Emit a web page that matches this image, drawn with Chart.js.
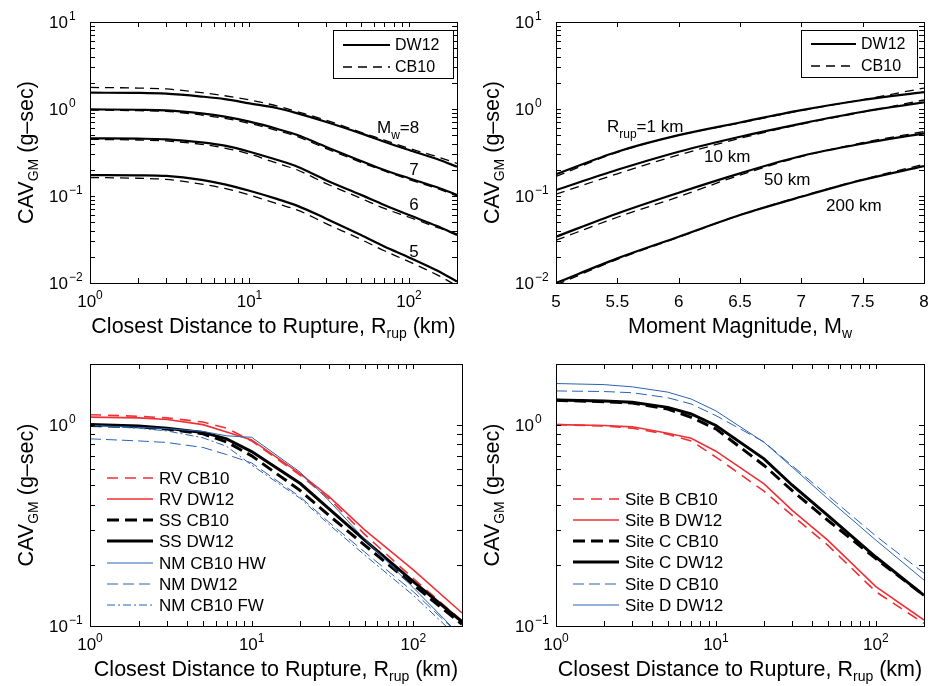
<!DOCTYPE html>
<html><head><meta charset="utf-8">
<script src="https://cdn.jsdelivr.net/npm/chart.js@4/dist/chart.umd.min.js"></script>
<style>
html,body{margin:0;padding:0;background:#fff;}
#wrap{position:relative;width:928px;height:686px;overflow:hidden;background:#fff;}
.pane{position:absolute;width:464px;height:343px;}
canvas{display:block;}
</style></head><body>
<div id="wrap">
<div class="pane" style="left:0;top:0"><canvas id="c1" width="464" height="343"></canvas></div>
<div class="pane" style="left:464px;top:0"><canvas id="c2" width="464" height="343"></canvas></div>
<div class="pane" style="left:0;top:343px"><canvas id="c3" width="464" height="343"></canvas></div>
<div class="pane" style="left:464px;top:343px"><canvas id="c4" width="464" height="343"></canvas></div>
</div>
<script>
// ---------------- DATA ----------------
// Panel (a): CAV vs distance for Mw 5-8
const distTop = [1, 2, 3, 5, 7, 10, 15, 20, 30, 50, 70, 100, 150, 200];
const dw12_M8 = [1.54, 1.53, 1.50, 1.39, 1.30, 1.16, 1.02, 0.89, 0.715, 0.525, 0.421, 0.338, 0.266, 0.217];
const cb10_M8 = [1.77, 1.74, 1.70, 1.54, 1.42, 1.27, 1.08, 0.93, 0.747, 0.539, 0.440, 0.353, 0.283, 0.237];
const dw12_M7 = [0.99, 0.98, 0.965, 0.89, 0.816, 0.715, 0.589, 0.503, 0.369, 0.253, 0.199, 0.160, 0.126, 0.103];
const cb10_M7 = [0.974, 0.957, 0.94, 0.853, 0.781, 0.684, 0.563, 0.481, 0.353, 0.244, 0.194, 0.155, 0.122, 0.100];
const dw12_M6 = [0.46, 0.456, 0.448, 0.414, 0.379, 0.323, 0.259, 0.217, 0.153, 0.103, 0.0788, 0.0604, 0.0451, 0.0356];
const cb10_M6 = [0.448, 0.44, 0.429, 0.393, 0.356, 0.304, 0.237, 0.199, 0.140, 0.094, 0.072, 0.057, 0.0437, 0.0366];
const dw12_M5 = [0.174, 0.173, 0.170, 0.153, 0.136, 0.115, 0.092, 0.077, 0.0553, 0.0356, 0.0262, 0.0197, 0.0139, 0.0104];
const cb10_M5 = [0.163, 0.160, 0.155, 0.137, 0.122, 0.103, 0.081, 0.069, 0.0485, 0.0317, 0.0235, 0.0176, 0.0124, 0.0093];

// Panel (b): CAV vs magnitude for Rrup = 1, 10, 50, 200 km
const mags = [5, 5.5, 6, 6.5, 7, 7.5, 8];
const dw12_R1 = [0.178, 0.323, 0.50, 0.70, 0.97, 1.27, 1.56];
const cb10_R1 = [0.168, 0.318, 0.50, 0.69, 0.96, 1.28, 1.74];
const dw12_R10 = [0.117, 0.20, 0.323, 0.48, 0.68, 0.93, 1.19];
const cb10_R10 = [0.105, 0.18, 0.296, 0.46, 0.67, 0.92, 1.27];
const dw12_R50 = [0.034, 0.063, 0.109, 0.182, 0.288, 0.40, 0.525];
const cb10_R50 = [0.031, 0.057, 0.098, 0.174, 0.284, 0.41, 0.55];
const dw12_R200 = [0.0100, 0.0192, 0.034, 0.0605, 0.098, 0.153, 0.221];
const cb10_R200 = [0.0095, 0.0187, 0.0335, 0.0605, 0.099, 0.155, 0.232];

// Panels (c) and (d): distance grid
const distBot = [1, 2, 3, 5, 7, 10, 20, 30, 50, 100, 200];
// Panel (c): style of faulting
const rv_cb10 = [1.12, 1.10, 1.08, 1.03, 0.96, 0.83, 0.56, 0.43, 0.285, 0.172, 0.106];
const rv_dw12 = [1.09, 1.08, 1.06, 1.0, 0.92, 0.84, 0.57, 0.44, 0.30, 0.19, 0.116];
const ss_cb10 = [0.99, 0.975, 0.95, 0.90, 0.82, 0.70, 0.47, 0.355, 0.252, 0.16, 0.102];
const ss_dw12 = [1.0, 0.985, 0.96, 0.915, 0.85, 0.735, 0.51, 0.383, 0.267, 0.166, 0.105];
const nm_cb10_hw = [0.99, 0.97, 0.955, 0.925, 0.88, 0.865, 0.58, 0.42, 0.27, 0.155, 0.088];
const nm_dw12 = [0.85, 0.83, 0.815, 0.77, 0.71, 0.645, 0.437, 0.328, 0.233, 0.148, 0.088];
const nm_cb10_fw = [0.99, 0.96, 0.93, 0.86, 0.78, 0.63, 0.43, 0.32, 0.225, 0.142, 0.084];
// Panel (d): site class
const siteB_cb10 = [1.0, 0.985, 0.96, 0.895, 0.83, 0.69, 0.467, 0.354, 0.252, 0.148, 0.103];
const siteB_dw12 = [1.0, 0.99, 0.975, 0.906, 0.855, 0.738, 0.508, 0.375, 0.267, 0.157, 0.107];
const siteC_cb10 = [1.32, 1.30, 1.28, 1.196, 1.087, 0.952, 0.627, 0.47, 0.335, 0.216, 0.142];
const siteC_dw12 = [1.325, 1.31, 1.29, 1.218, 1.13, 0.99, 0.676, 0.50, 0.354, 0.22, 0.142];
const siteD_cb10 = [1.47, 1.46, 1.44, 1.36, 1.266, 1.108, 0.82, 0.625, 0.445, 0.28, 0.183];
const siteD_dw12 = [1.60, 1.58, 1.54, 1.45, 1.34, 1.17, 0.817, 0.615, 0.429, 0.267, 0.169];

// Tick labels
const distDecades = [0, 1, 2];          // 10^0, 10^1, 10^2
const cavDecadesTop = [-2, -1, 0, 1];  // 10^-2 ... 10^1
const cavDecadesBot = [-1, 0];         // 10^-1, 10^0
const magTicks = [5, 5.5, 6, 6.5, 7, 7.5, 8];

// Text
const yTitle = ['CAV', 'GM', ' (g\u2013sec)'];
const xTitleDist = ['Closest Distance to Rupture, R', 'rup', ' (km)'];
const xTitleMag = ['Moment Magnitude, M', 'w', ''];

// ---------------- RENDERING ----------------
const FONT = '"Liberation Sans", Arial, Helvetica, sans-serif';
const RED = '#ee3136', BLUE = '#2c62b0', BLACK = '#000000';

function pts(xs, ys) { return xs.map((x, i) => ({ x: x, y: ys[i] })); }
function logMarks(min, max) {
  const out = [];
  for (let e = Math.floor(Math.log10(min) + 1e-9); Math.pow(10, e) <= max * 1.0001; e++) {
    for (let m = 1; m <= 9; m++) {
      const v = m * Math.pow(10, e);
      if (v >= min * 0.9999 && v <= max * 1.0001) out.push(v);
    }
  }
  return out;
}
function expStr(e) { return e < 0 ? '\u2212' + (-e) : String(e); }

function rich(ctx, segs, x, y, align) {
  let w = 0;
  segs.forEach(s => { ctx.font = s[1] + 'px ' + FONT; s.w = ctx.measureText(s[0]).width; w += s.w; });
  let cx = align === 'center' ? x - w / 2 : (align === 'right' ? x - w : x);
  ctx.textAlign = 'left';
  segs.forEach(s => { ctx.font = s[1] + 'px ' + FONT; ctx.fillText(s[0], cx, y + (s[2] || 0)); cx += s.w; });
  return w;
}

function makePanel(id, P) {
  const datasets = P.series.map(s => ({
    label: s.label,
    data: pts(s.x, s.y),
    borderColor: s.color,
    backgroundColor: s.color,
    borderWidth: s.width,
    borderDash: s.dash || [],
    pointRadius: 0,
    fill: false,
    tension: 0,
    cubicInterpolationMode: P.smooth ? 'monotone' : 'default'
  }));

  const overlay = {
    id: 'overlay' + id,
    afterDraw(chart) {
      const ctx = chart.ctx, a = chart.chartArea, sx = chart.scales.x, sy = chart.scales.y;
      ctx.save();
      ctx.fillStyle = '#000'; ctx.strokeStyle = '#000'; ctx.lineWidth = 1;
      ctx.setLineDash([]);
      // inward tick marks on all four sides
      const TL = 5;
      ctx.beginPath();
      P.xMarks.forEach(v => {
        const p = Math.round(sx.getPixelForValue(v)) + 0.5;
        ctx.moveTo(p, a.bottom); ctx.lineTo(p, a.bottom - TL);
        ctx.moveTo(p, a.top); ctx.lineTo(p, a.top + TL);
      });
      P.yMarks.forEach(v => {
        const p = Math.round(sy.getPixelForValue(v)) + 0.5;
        ctx.moveTo(a.left, p); ctx.lineTo(a.left + TL, p);
        ctx.moveTo(a.right, p); ctx.lineTo(a.right - TL, p);
      });
      ctx.stroke();
      ctx.strokeRect(Math.round(a.left) + 0.5, Math.round(a.top) + 0.5,
                     Math.round(a.right - a.left), Math.round(a.bottom - a.top));

      // x tick labels
      ctx.textBaseline = 'alphabetic';
      P.xLabels.forEach(L => {
        const p = sx.getPixelForValue(L.v);
        rich(ctx, L.segs.map(s => s.slice()), p, a.bottom + 24, 'center');
      });
      // y tick labels: "10" right-aligned, exponent hanging
      P.yLabels.forEach(e => {
        const p = sy.getPixelForValue(Math.pow(10, e));
        ctx.font = '17px ' + FONT; ctx.textAlign = 'right';
        ctx.fillText('10', a.left - 22, p + 6);
        ctx.font = '12px ' + FONT; ctx.textAlign = 'left';
        ctx.fillText(expStr(e), a.left - 21, p - 2);
      });

      // axis titles
      rich(ctx, [[P.xTitle[0], 21.5], [P.xTitle[1], 14, 5], [P.xTitle[2], 21.5]],
           (a.left + a.right) / 2, a.bottom + 50, 'center');
      ctx.save();
      ctx.translate(a.left - 57, (a.top + a.bottom) / 2);
      ctx.rotate(-Math.PI / 2);
      rich(ctx, [[yTitle[0], 21.5], [yTitle[1], 14, 5], [yTitle[2], 21.5]], 0, 0, 'center');
      ctx.restore();

      // annotations
      (P.notes || []).forEach(n => { rich(ctx, n.segs.map(s => s.slice()), n.x, n.y, n.align || 'left'); });

      // legend
      const G = P.legend;
      if (G.box) {
        ctx.fillStyle = '#fff';
        ctx.fillRect(G.box[0], G.box[1], G.box[2], G.box[3]);
        ctx.strokeStyle = '#000'; ctx.lineWidth = 1;
        ctx.strokeRect(G.box[0] + 0.5, G.box[1] + 0.5, G.box[2], G.box[3]);
      }
      G.items.forEach((di, k) => {
        const ds = chart.data.datasets[di];
        const y = G.rows[k];
        ctx.strokeStyle = ds.borderColor; ctx.lineWidth = ds.borderWidth;
        ctx.setLineDash(ds.borderDash || []);
        ctx.beginPath(); ctx.moveTo(G.x1, y); ctx.lineTo(G.x2, y); ctx.stroke();
        ctx.setLineDash([]);
        ctx.fillStyle = '#000'; ctx.font = G.font + 'px ' + FONT;
        ctx.textAlign = 'left'; ctx.textBaseline = 'middle';
        ctx.fillText(ds.label, G.tx, y + 1);
        ctx.textBaseline = 'alphabetic';
      });
      ctx.restore();
    }
  };

  const axis = (type, min, max, horiz) => ({
    type: type, min: min, max: max,
    grid: { display: false, drawTicks: false },
    border: { display: false },
    ticks: { display: false },
    afterFit(s) { if (horiz) s.height = 0; else s.width = 0; }
  });

  return new Chart(document.getElementById(id), {
    type: 'line',
    data: { datasets: datasets },
    options: {
      responsive: false, animation: false, parsing: true,
      layout: { padding: P.pad },
      plugins: { legend: { display: false }, tooltip: { enabled: false }, title: { display: false } },
      elements: { point: { radius: 0 } },
      scales: {
        x: axis(P.xType, P.xMin, P.xMax, true),
        y: axis('logarithmic', P.yMin, P.yMax, false)
      }
    },
    plugins: [overlay]
  });
}

const decadeLabels = exps => exps.map(e => ({ v: Math.pow(10, e), segs: [['10', 17], [expStr(e), 12, -8]] }));

// Panel (a)
makePanel('c1', {
  pad: { left: 90, right: 7, top: 22, bottom: 60 },
  xType: 'logarithmic', xMin: 1, xMax: 200, yMin: 0.01, yMax: 10, smooth: true,
  xMarks: logMarks(1, 200), yMarks: logMarks(0.01, 10),
  xLabels: decadeLabels(distDecades), yLabels: cavDecadesTop,
  xTitle: xTitleDist,
  series: [
    { label: 'DW12', x: distTop, y: dw12_M8, color: BLACK, width: 2.2 },
    { label: 'CB10', x: distTop, y: cb10_M8, color: BLACK, width: 1.3, dash: [9, 6] },
    { label: 'DW12', x: distTop, y: dw12_M7, color: BLACK, width: 2.2 },
    { label: 'CB10', x: distTop, y: cb10_M7, color: BLACK, width: 1.3, dash: [9, 6] },
    { label: 'DW12', x: distTop, y: dw12_M6, color: BLACK, width: 2.2 },
    { label: 'CB10', x: distTop, y: cb10_M6, color: BLACK, width: 1.3, dash: [9, 6] },
    { label: 'DW12', x: distTop, y: dw12_M5, color: BLACK, width: 2.2 },
    { label: 'CB10', x: distTop, y: cb10_M5, color: BLACK, width: 1.3, dash: [9, 6] }
  ],
  notes: [
    { segs: [['M', 17], ['w', 12, 6], ['=8', 17]], x: 377, y: 133 },
    { segs: [['7', 17]], x: 414, y: 175, align: 'center' },
    { segs: [['6', 17]], x: 414, y: 210, align: 'center' },
    { segs: [['5', 17]], x: 414, y: 257, align: 'center' }
  ],
  legend: { box: [333, 30, 120, 48], x1: 343, x2: 390, tx: 395, rows: [45, 67], items: [0, 1], font: 16 }
});

// Panel (b)
makePanel('c2', {
  pad: { left: 92, right: 4, top: 22, bottom: 60 },
  xType: 'linear', xMin: 5, xMax: 8, yMin: 0.01, yMax: 10, smooth: true,
  xMarks: magTicks, yMarks: logMarks(0.01, 10),
  xLabels: magTicks.map(m => ({ v: m, segs: [[String(m), 17]] })), yLabels: cavDecadesTop,
  xTitle: xTitleMag,
  series: [
    { label: 'DW12', x: mags, y: dw12_R1, color: BLACK, width: 2.2 },
    { label: 'CB10', x: mags, y: cb10_R1, color: BLACK, width: 1.3, dash: [9, 6] },
    { label: 'DW12', x: mags, y: dw12_R10, color: BLACK, width: 2.2 },
    { label: 'CB10', x: mags, y: cb10_R10, color: BLACK, width: 1.3, dash: [9, 6] },
    { label: 'DW12', x: mags, y: dw12_R50, color: BLACK, width: 2.2 },
    { label: 'CB10', x: mags, y: cb10_R50, color: BLACK, width: 1.3, dash: [9, 6] },
    { label: 'DW12', x: mags, y: dw12_R200, color: BLACK, width: 2.2 },
    { label: 'CB10', x: mags, y: cb10_R200, color: BLACK, width: 1.3, dash: [9, 6] }
  ],
  notes: [
    { segs: [['R', 17], ['rup', 12, 6], ['=1 km', 17]], x: 143, y: 132 },
    { segs: [['10 km', 17]], x: 240, y: 162 },
    { segs: [['50 km', 17]], x: 300, y: 185 },
    { segs: [['200 km', 17]], x: 362, y: 211 }
  ],
  legend: { box: [337, 30, 116, 47], x1: 347, x2: 392, tx: 397, rows: [44, 66], items: [0, 1], font: 16 }
});

// Panel (c)
makePanel('c3', {
  pad: { left: 90, right: 2, top: 21, bottom: 60 },
  xType: 'logarithmic', xMin: 1, xMax: 200, yMin: 0.1, yMax: 2, smooth: false,
  xMarks: logMarks(1, 200), yMarks: logMarks(0.1, 2),
  xLabels: decadeLabels(distDecades), yLabels: cavDecadesBot,
  xTitle: xTitleDist,
  series: [
    { label: 'NM CB10 FW', x: distBot, y: nm_cb10_fw, color: BLUE, width: 1, dash: [8, 3, 2, 3] },
    { label: 'NM DW12', x: distBot, y: nm_dw12, color: BLUE, width: 1, dash: [11, 5] },
    { label: 'NM CB10 HW', x: distBot, y: nm_cb10_hw, color: BLUE, width: 1 },
    { label: 'SS DW12', x: distBot, y: ss_dw12, color: BLACK, width: 3 },
    { label: 'SS CB10', x: distBot, y: ss_cb10, color: BLACK, width: 3, dash: [12, 6] },
    { label: 'RV DW12', x: distBot, y: rv_dw12, color: RED, width: 1.6 },
    { label: 'RV CB10', x: distBot, y: rv_cb10, color: RED, width: 1.6, dash: [11, 7] }
  ],
  legend: { box: null, x1: 107, x2: 153, tx: 159, rows: [135, 156, 177, 198, 220, 241, 262], items: [6, 5, 4, 3, 2, 1, 0], font: 17 }
});

// Panel (d)
makePanel('c4', {
  pad: { left: 92, right: 4, top: 21, bottom: 60 },
  xType: 'logarithmic', xMin: 1, xMax: 200, yMin: 0.1, yMax: 2, smooth: false,
  xMarks: logMarks(1, 200), yMarks: logMarks(0.1, 2),
  xLabels: decadeLabels(distDecades), yLabels: cavDecadesBot,
  xTitle: xTitleDist,
  series: [
    { label: 'Site D DW12', x: distBot, y: siteD_dw12, color: BLUE, width: 1 },
    { label: 'Site D CB10', x: distBot, y: siteD_cb10, color: BLUE, width: 1, dash: [11, 5] },
    { label: 'Site C DW12', x: distBot, y: siteC_dw12, color: BLACK, width: 3 },
    { label: 'Site C CB10', x: distBot, y: siteC_cb10, color: BLACK, width: 3, dash: [12, 6] },
    { label: 'Site B DW12', x: distBot, y: siteB_dw12, color: RED, width: 1.6 },
    { label: 'Site B CB10', x: distBot, y: siteB_cb10, color: RED, width: 1.6, dash: [11, 7] }
  ],
  legend: { box: null, x1: 109, x2: 155, tx: 161, rows: [156, 177, 198, 219, 241, 262], items: [5, 4, 3, 2, 1, 0], font: 17 }
});
</script>
</body></html>
